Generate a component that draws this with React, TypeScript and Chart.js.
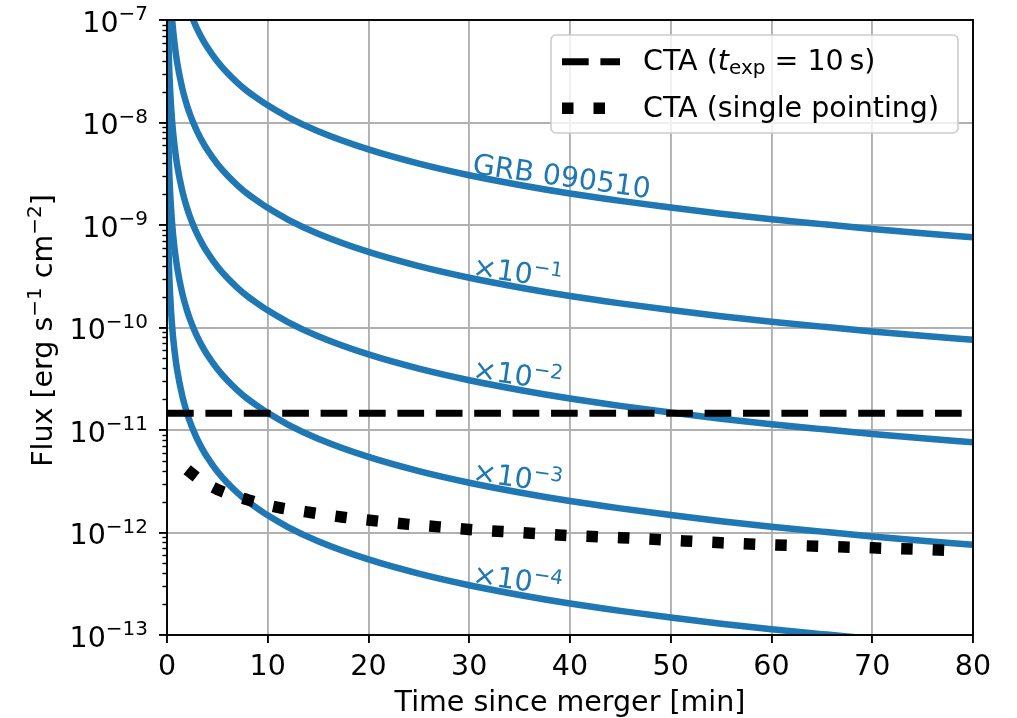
import { useEffect, useRef } from "react";
import { Chart, registerables } from "chart.js";

Chart.register(...registerables);

const WIDTH = 1017;
const HEIGHT = 718;
const FAMILY = "'DejaVu Sans', sans-serif";
const FONT_SIZE = 28.5;
const SUP_SIZE = 20;
const SUP_RAISE = 11.3;
const BLUE = "#1f77b4";
const GRID = "#b0b0b0";

// GRB 090510 light curve: time since merger [min] and flux [erg s^-1 cm^-2]
const grbTime = [
  0.002, 0.005, 0.01, 0.02, 0.05, 0.1, 0.2, 0.3, 0.5, 0.75, 1, 1.5, 2, 2.3, 2.6, 3, 3.5, 4, 5, 6, 7,
  8, 9, 10, 12, 15, 20, 25, 30, 35, 40, 45, 50, 55, 60, 65, 70, 75, 80,
];
const grbFlux = [
  2.74e-3, 7.41e-4, 2.76e-4, 1.03e-4, 2.79e-5, 1.04e-5, 3.86e-6, 2.17e-6, 1.05e-6, 5.87e-7, 3.9e-7,
  2.19e-7, 1.45e-7, 1.19e-7, 1.0e-7, 8.15e-8, 6.55e-8, 5.42e-8, 3.94e-8, 3.04e-8, 2.44e-8, 2.01e-8,
  1.71e-8, 1.47e-8, 1.13e-8, 8.22e-9, 5.46e-9, 3.97e-9, 3.06e-9, 2.46e-9, 2.03e-9, 1.72e-9, 1.48e-9,
  1.29e-9, 1.14e-9, 1.02e-9, 9.16e-10, 8.3e-10, 7.59e-10,
];

// the same light curve scaled down by whole decades
const scaleFactors = [1, 1e-1, 1e-2, 1e-3, 1e-4];
const curveNames = ["GRB 090510", "×10", "×10", "×10", "×10"];
const curveExponents = ["", "−1", "−2", "−3", "−4"];
const labelTime = 30;
const labelAngle = 8;

// CTA sensitivity, 10 s exposure
const ctaTime = [0, 80];
const ctaFlux = [1.46e-11, 1.46e-11];

// CTA sensitivity, single pointing
const spTime = [
  2.0, 2.6, 3.5, 5, 8, 11, 14, 17.5, 21, 24, 27, 30, 35, 40, 45, 50, 55, 60, 65, 70, 75, 78.5,
];
const spFlux = [
  4.1e-12, 3.67e-12, 3.16e-12, 2.63e-12, 2.09e-12, 1.76e-12, 1.58e-12, 1.41e-12, 1.29e-12,
  1.2e-12, 1.135e-12, 1.07e-12, 1.0e-12, 9.33e-13, 8.91e-13, 8.41e-13, 7.94e-13, 7.59e-13,
  7.33e-13, 7.08e-13, 6.84e-13, 6.61e-13,
];

const xTicks = [0, 10, 20, 30, 40, 50, 60, 70, 80];
const yExponents = [-13, -12, -11, -10, -9, -8, -7];
const xTitle = "Time since merger [min]";
const legendItems = ["CTA (single pointing)"];

const pow10 = (e: number) => Number(`1e${e}`);
const font = (size: number, style = "normal") => `${style} ${size}px ${FAMILY}`;

// draws "base" followed by a raised exponent, starting at (x, y) on the baseline
function drawPowerText(ctx: CanvasRenderingContext2D, base: string, exp: string, x: number, y: number) {
  ctx.font = font(FONT_SIZE);
  ctx.fillText(base, x, y);
  const w = ctx.measureText(base).width;
  if (exp) {
    ctx.font = font(SUP_SIZE);
    ctx.fillText(exp, x + w, y - SUP_RAISE);
  }
}

const paperDecor = {
  id: "paperDecor",
  afterDraw(chart: any) {
    const { ctx, chartArea: a, scales } = chart;
    const xs = scales.x;
    const ys = scales.y;
    ctx.save();

    // frame
    ctx.strokeStyle = "#000";
    ctx.lineWidth = 1.9;
    ctx.setLineDash([]);
    ctx.strokeRect(a.left, a.top, a.right - a.left, a.bottom - a.top);

    // minor ticks on the log axis
    ctx.lineWidth = 1.4;
    for (let e = yExponents[0]; e < yExponents[yExponents.length - 1]; e++) {
      for (let m = 2; m <= 9; m++) {
        const py = Math.round(ys.getPixelForValue(m * pow10(e))) + 0.5;
        ctx.beginPath();
        ctx.moveTo(a.left, py);
        ctx.lineTo(a.left - 4.6, py);
        ctx.stroke();
      }
    }

    // y tick labels, 10 with a raised exponent
    ctx.fillStyle = "#000";
    ctx.textBaseline = "alphabetic";
    ctx.textAlign = "left";
    const rightEdge = 148;
    for (const e of yExponents) {
      const py = ys.getPixelForValue(pow10(e));
      ctx.font = font(SUP_SIZE);
      const sup = `−${-e}`;
      const wSup = ctx.measureText(sup).width;
      ctx.font = font(FONT_SIZE);
      const wMain = ctx.measureText("10").width;
      drawPowerText(ctx, "10", sup, rightEdge - wSup - wMain, py + 11.7);
    }

    // x axis title
    ctx.font = font(FONT_SIZE);
    ctx.textAlign = "center";
    ctx.fillText(xTitle, (a.left + a.right) / 2, 711);

    // y axis title with superscripts
    const parts: [string, boolean][] = [
      ["Flux [erg s", false],
      ["−1", true],
      [" cm", false],
      ["−2", true],
      ["]", false],
    ];
    ctx.textAlign = "left";
    let total = 0;
    const widths = parts.map(([s, sup]) => {
      ctx.font = font(sup ? SUP_SIZE : FONT_SIZE);
      const w = ctx.measureText(s).width;
      total += w;
      return w;
    });
    ctx.save();
    ctx.translate(52, (a.top + a.bottom) / 2 + 3);
    ctx.rotate(-Math.PI / 2);
    let cx = -total / 2;
    parts.forEach(([s, sup], i) => {
      ctx.font = font(sup ? SUP_SIZE : FONT_SIZE);
      ctx.fillText(s, cx, sup ? -SUP_RAISE : 0);
      cx += widths[i];
    });
    ctx.restore();

    // curve annotations at t = 30 min, tilted along the curves
    const ti = grbTime.indexOf(labelTime);
    const px = xs.getPixelForValue(labelTime);
    ctx.fillStyle = BLUE;
    scaleFactors.forEach((f, i) => {
      const py = ys.getPixelForValue(grbFlux[ti] * f);
      ctx.save();
      ctx.translate(px + 2.5, py - 2);
      ctx.rotate((labelAngle * Math.PI) / 180);
      drawPowerText(ctx, curveNames[i], curveExponents[i], 0, 0);
      ctx.restore();
    });

    // legend
    const bx = 551, by = 35, bw = 407, bh = 98, r = 5;
    ctx.beginPath();
    ctx.moveTo(bx + r, by);
    ctx.arcTo(bx + bw, by, bx + bw, by + bh, r);
    ctx.arcTo(bx + bw, by + bh, bx, by + bh, r);
    ctx.arcTo(bx, by + bh, bx, by, r);
    ctx.arcTo(bx, by, bx + bw, by, r);
    ctx.closePath();
    ctx.fillStyle = "rgba(255,255,255,0.8)";
    ctx.fill();
    ctx.strokeStyle = "#cccccc";
    ctx.lineWidth = 1.6;
    ctx.stroke();

    ctx.strokeStyle = "#000";
    ctx.lineCap = "butt";
    ctx.lineWidth = 7;
    ctx.setLineDash([26.7, 11.7]);
    ctx.beginPath();
    ctx.moveTo(562, 61.7);
    ctx.lineTo(620, 61.7);
    ctx.stroke();
    ctx.lineWidth = 11.5;
    ctx.setLineDash([11.5, 20]);
    ctx.beginPath();
    ctx.moveTo(562, 108.3);
    ctx.lineTo(620, 108.3);
    ctx.stroke();
    ctx.setLineDash([]);

    ctx.fillStyle = "#000";
    let lx = 643;
    const row1: [string, string, number, number][] = [
      ["CTA (", "normal", FONT_SIZE, 0],
      ["t", "italic", FONT_SIZE, 0],
      ["exp", "normal", SUP_SIZE, 4],
      [" = 10\u2009s)", "normal", FONT_SIZE, 0],
    ];
    for (const [s, st, sz, dy] of row1) {
      ctx.font = font(sz, st);
      ctx.fillText(s, lx, 70 + dy);
      lx += ctx.measureText(s).width;
    }
    ctx.font = font(FONT_SIZE);
    ctx.fillText(legendItems[0], 643, 117);

    ctx.restore();
  },
};

export default function App() {
  const canvasRef = useRef<HTMLCanvasElement | null>(null);

  useEffect(() => {
    const canvas = canvasRef.current;
    if (!canvas) return;

    const grbSets = scaleFactors.map((f, i) => ({
      label: curveNames[i] + curveExponents[i],
      data: grbTime.map((t, k) => ({ x: t, y: grbFlux[k] * f })),
      borderColor: BLUE,
      borderWidth: 6.5,
      pointRadius: 0,
      cubicInterpolationMode: "monotone" as const,
      borderJoinStyle: "round" as const,
      clip: 0,
      order: 2,
    }));

    const chart = new Chart(canvas, {
      type: "line",
      data: {
        datasets: [
          {
            label: "CTA (t_exp = 10 s)",
            data: ctaTime.map((t, k) => ({ x: t, y: ctaFlux[k] })),
            borderColor: "#000",
            borderWidth: 7,
            borderDash: [26.7, 11.7],
            borderCapStyle: "butt",
            pointRadius: 0,
            clip: 0,
            order: 0,
          },
          {
            label: "CTA (single pointing)",
            data: spTime.map((t, k) => ({ x: t, y: spFlux[k] })),
            borderColor: "#000",
            borderWidth: 11.5,
            borderDash: [11.5, 20],
            borderCapStyle: "butt",
            cubicInterpolationMode: "monotone",
            pointRadius: 0,
            clip: 0,
            order: 1,
          },
          ...grbSets,
        ],
      },
      options: {
        animation: false,
        responsive: false,
        devicePixelRatio: 1,
        layout: { padding: { top: 20, right: WIDTH - 973, bottom: 0, left: 0 } },
        plugins: {
          legend: { display: false },
          tooltip: { enabled: false },
        },
        scales: {
          x: {
            type: "linear",
            min: 0,
            max: 80,
            afterBuildTicks: (s: any) => {
              s.ticks = xTicks.map((v) => ({ value: v }));
            },
            afterFit: (s: any) => {
              s.height = HEIGHT - 635;
            },
            ticks: {
              color: "#000",
              font: { family: FAMILY, size: FONT_SIZE },
              padding: 7,
              maxRotation: 0,
              autoSkip: false,
            },
            grid: {
              color: GRID,
              lineWidth: 1.9,
              tickLength: 8,
              tickColor: "#000",
              tickWidth: 1.9,
            },
            border: { display: false },
          },
          y: {
            type: "logarithmic",
            min: 1e-13,
            max: 1e-7,
            afterBuildTicks: (s: any) => {
              s.ticks = yExponents.map((e) => ({ value: pow10(e) }));
            },
            afterFit: (s: any) => {
              s.width = 167;
            },
            ticks: { display: false },
            grid: {
              color: GRID,
              lineWidth: 1.9,
              tickLength: 8,
              tickColor: "#000",
              tickWidth: 1.9,
            },
            border: { display: false },
          },
        },
      },
      plugins: [paperDecor],
    });

    return () => chart.destroy();
  }, []);

  return (
    <div style={{ position: "absolute", left: 0, top: 0, width: WIDTH, height: HEIGHT, background: "#fff" }}>
      <canvas ref={canvasRef} width={WIDTH} height={HEIGHT} style={{ width: WIDTH, height: HEIGHT }} />
    </div>
  );
}
